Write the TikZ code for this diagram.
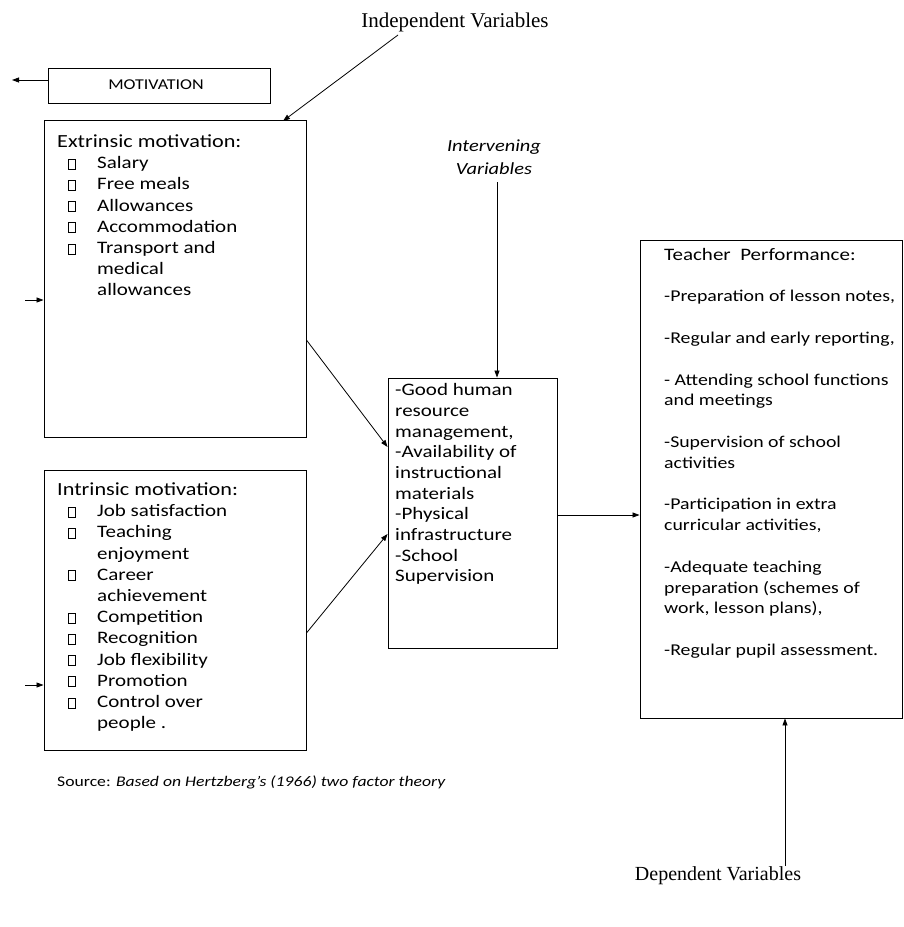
\documentclass[tikz,border=0pt]{standalone}
\usepackage{fontspec}
\setmainfont{Carlito}[FakeStretch=1.2]
\newfontfamily\serif{Liberation Serif}
\usetikzlibrary{arrows.meta}
\newcommand\bx{\tikz[baseline=0pt]\draw[line width=0.8pt] (0pt,-0.5pt) rectangle (6.5pt,9.5pt);}
\begin{document}
\begin{tikzpicture}[x=1pt,y=-1pt,
  box/.style={draw, line width=0.9pt, inner sep=0pt},
  arr/.style={line width=0.8pt, -{Triangle[length=7pt,width=5pt]}},
  lst/.style={inner sep=0pt, anchor=north west, font=\fontsize{17.5}{21.2}\selectfont},
  tp/.style={inner sep=0pt, anchor=north west, font=\fontsize{16.5}{20.8}\selectfont},
  cen/.style={inner sep=0pt, anchor=north west, font=\fontsize{17.5}{20.7}\selectfont},
  lbl/.style={inner sep=0pt, font=\serif\fontsize{20}{24}\selectfont}]
\useasboundingbox (0,0) rectangle (904,927);
% boxes
\node[box, minimum width=222pt, minimum height=35pt] (mot) at (159,85.5) {};
\node[box, minimum width=262pt, minimum height=317pt] (ext) at (175,278.5) {};
\node[box, minimum width=262pt, minimum height=280pt] (int) at (175,610) {};
\node[box, minimum width=169pt, minimum height=270pt] (cen) at (472.5,513) {};
\node[box, minimum width=262pt, minimum height=478pt] (tea) at (771,479) {};
% texts
\node[inner sep=0pt, font=\fontsize{15}{17}\selectfont] (motT) at (156,85) {MOTIVATION};
\node[lst] (extT) at (57,132.5) {%
\begin{tabular}{@{}p{40pt}@{}l@{}}
\multicolumn{2}{@{}l@{}}{\fontsize{18.5}{21.2}\selectfont Extrinsic motivation:}\\
\hspace{11pt}\bx & Salary\\
\hspace{11pt}\bx & Free meals\\
\hspace{11pt}\bx & Allowances\\
\hspace{11pt}\bx & Accommodation\\
\hspace{11pt}\bx & Transport and\\
 & medical\\
 & allowances
\end{tabular}};
\node[lst] (intT) at (57,480.5) {%
\begin{tabular}{@{}p{40pt}@{}l@{}}
\multicolumn{2}{@{}l@{}}{\fontsize{18.5}{21.2}\selectfont Intrinsic motivation:}\\
\hspace{11pt}\bx & Job satisfaction\\
\hspace{11pt}\bx & Teaching\\
 & enjoyment\\
\hspace{11pt}\bx & Career\\
 & achievement\\
\hspace{11pt}\bx & Competition\\
\hspace{11pt}\bx & Recognition\\
\hspace{11pt}\bx & Job flexibility\\
\hspace{11pt}\bx & Promotion\\
\hspace{11pt}\bx & Control over\\
 & people .
\end{tabular}};
\node[cen] (cenT) at (395,381) {%
\begin{tabular}{@{}l@{}}
-Good human\\ resource\\ management,\\ -Availability of\\ instructional\\ materials\\ -Physical\\ infrastructure\\ -School\\ Supervision
\end{tabular}};
\node[tp] (teaT) at (664,245.5) {%
\begin{tabular}{@{}l@{}}
{\fontsize{17.5}{20.8}\selectfont Teacher\ \ Performance:}\\ \\
-Preparation of lesson notes,\\ \\
-Regular and early reporting,\\ \\
- Attending school functions\\ and meetings\\ \\
-Supervision of school\\ activities\\ \\
-Participation in extra\\ curricular activities,\\ \\
-Adequate teaching\\ preparation (schemes of\\ work, lesson plans),\\ \\
-Regular pupil assessment.
\end{tabular}};
\node[inner sep=0pt, align=center, font=\itshape\fontsize{17}{23}\selectfont] (intv) at (494,157) {Intervening\\Variables};
\node[lbl, font=\serif\fontsize{21}{24}\selectfont] (indep) at (455,22) {Independent Variables};
\node[lbl, anchor=north] (dep) at (718,866) {Dependent Variables};
\node[inner sep=0pt, anchor=west, font=\fontsize{14.7}{17}\selectfont] (src) at (57,782) {Source: \textit{Based on Hertzberg's (1966) two factor theory}};
% connectors
\coordinate (motL) at (12,80);
\coordinate (extL) at (25,300);
\coordinate (intL) at (25,685);
\coordinate (indS) at (398,35);
\coordinate (indE) at (283,121);
\draw[arr] (mot.west |- motL) -- (motL);
\draw[arr] (extL) -- (extL -| ext.west);
\draw[arr] (intL) -- (intL -| int.west);
\draw[arr] (indS) -- (indE);
\draw[arr] (497,182) -- (cen.north -| 497,0);
\draw[arr] (ext.east |- 0,340) -- (cen.west |- 0,447);
\draw[arr] (int.east |- 0,633) -- (cen.west |- 0,534);
\draw[arr] (cen.east |- 0,515) -- (tea.west |- 0,515);
\draw[arr] (dep.north -| 785,0) -- (tea.south -| 785,0);
\end{tikzpicture}
\end{document}
